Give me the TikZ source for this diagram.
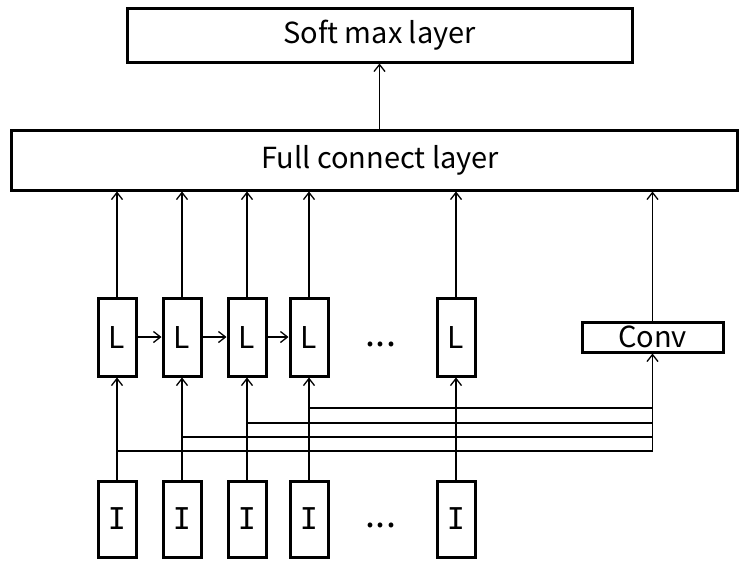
\documentclass[tikz,border=0pt]{standalone}
\usepackage{fontspec}
\setmainfont{Noto Sans CJK KR}
\newfontfamily\serifI{DejaVu Sans Mono}
\usetikzlibrary{arrows.meta}
\begin{document}
\begin{tikzpicture}[x=1pt,y=-1pt,
  box/.style={draw, line width=3pt, inner sep=0pt, font=\fontsize{29}{32}\selectfont},
  cell/.style={box, minimum width=38pt, minimum height=78pt, font=\fontsize{30}{32}\selectfont},
  conn/.style={line width=1.5pt},
  dots/.style={inner sep=0pt, anchor=base, font=\fontsize{36}{40}\selectfont},
  arr/.style={conn, -{Straight Barb[length=7pt,width=11pt,line width=1.3pt]}}]
\useasboundingbox (0,0) rectangle (739,563);
\node[box, minimum width=505pt, minimum height=54pt] (soft) at (379.5,35) {\raisebox{-2pt}{Soft max layer}};
\node[box, minimum width=726pt, minimum height=60pt] (full) at (374,160) {\hspace*{12pt}\raisebox{-2pt}{Full connect layer}};
\foreach \i/\x in {1/117,2/182,3/247,4/309,5/456}{
  \node[cell] (L\i) at (\x,337) {L};
  \node[cell, minimum height=76pt] (I\i) at (\x,519) {\serifI I};
}
\node[box, minimum width=141pt, minimum height=30pt] (conv) at (652.5,337) {\raisebox{-1pt}{Conv}};
\node[dots] (d1) at (381,346) {...};
\node[dots] (d2) at (381,527) {...};
\draw[arr] (soft.south |- full.north) -- (soft.south);
\foreach \i in {1,...,5}{
  \draw[arr] (L\i.north) -- (L\i.north |- full.south);
  \draw[arr] (I\i.north) -- (L\i.south);
}
\draw[arr] (conv.north) -- (conv.north |- full.south);
\draw[arr] (L1.east) -- (L2.west);
\draw[arr] (L2.east) -- (L3.west);
\draw[arr] (L3.east) -- (L4.west);
\coordinate (b1) at (117,451);
\coordinate (b2) at (182,437);
\coordinate (b3) at (247,423);
\coordinate (b4) at (309,408);
\draw[arr] (b1) -| (conv.south);
\draw[conn] (b2) -- (b2 -| conv.south);
\draw[conn] (b3) -- (b3 -| conv.south);
\draw[conn] (b4) -- (b4 -| conv.south);
\end{tikzpicture}
\end{document}
